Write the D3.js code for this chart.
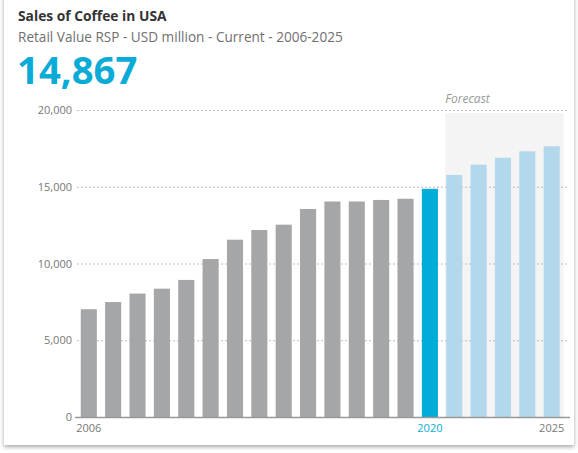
<!DOCTYPE html>
<html>
<head>
<meta charset="utf-8">
<script src="https://cdn.jsdelivr.net/npm/d3@7"></script>
<style>
  html, body { margin: 0; padding: 0; background: #fff; }
  svg { display: block; font-family: "Open Sans", "Noto Sans", sans-serif; }
</style>
</head>
<body>
<svg id="chart" width="578" height="453"></svg>
<script>
// Annual retail sales of coffee, USD million
const years = d3.range(2006, 2026);
const values = [7020, 7490, 8040, 8360, 8930, 10290, 11550, 12180, 12530, 13550,
                14040, 14040, 14140, 14220, 14867, 15770, 16440, 16890, 17310, 17640];
const currentYear = 2020;
const forecastStart = 2021;
const yTicks = [0, 5000, 10000, 15000, 20000];
const xTickLabels = [2006, 2020, 2025];

const svg = d3.select("#chart");

// card with soft shadow
const defs = svg.append("defs");
const f = defs.append("filter").attr("id", "shadow")
  .attr("x", "-5%").attr("y", "-5%").attr("width", "110%").attr("height", "110%");
f.append("feDropShadow").attr("dx", 0).attr("dy", 2).attr("stdDeviation", 2)
  .attr("flood-color", "#000").attr("flood-opacity", 0.35);
svg.append("rect").attr("x", 4).attr("y", -10).attr("width", 570).attr("height", 455)
  .attr("fill", "#fff").attr("filter", "url(#shadow)");

// header
svg.append("text").attr("x", 18).attr("y", 21)
  .attr("font-size", 13.8).attr("font-weight", 700).attr("fill", "#333")
  .text("Sales of Coffee in USA");
svg.append("text").attr("x", 18).attr("y", 42)
  .attr("font-size", 13.6).attr("fill", "#707070")
  .text("Retail Value RSP - USD million - Current - 2006-2025");
svg.append("text").attr("x", 17).attr("y", 84)
  .attr("font-size", 38.3).attr("font-weight", 700).attr("fill", "#0aabd6")
  .text(d3.format(",")(values[years.indexOf(currentYear)]));

// scales
const x = d3.scaleBand().domain(years).range([76.5, 564])
  .paddingInner(0.34).paddingOuter(0.175);
const y = d3.scaleLinear().domain([0, 20000]).range([417, 110]);

// forecast background
const fx0 = x(forecastStart) - 1;
const fx1 = x(years[years.length - 1]) + x.bandwidth() + 4;
svg.append("rect").attr("x", fx0).attr("y", y(20000) + 3)
  .attr("width", fx1 - fx0).attr("height", y(0) - y(20000) - 3)
  .attr("fill", "#f4f4f4");
svg.append("text").attr("x", fx0).attr("y", 103)
  .attr("font-size", 12).attr("font-style", "italic").attr("fill", "#999")
  .text("Forecast");

// y axis with dotted gridlines
const yAxis = svg.append("g").attr("transform", "translate(76,0)")
  .call(d3.axisLeft(y).tickValues(yTicks).tickFormat(d3.format(",")).tickSize(0).tickPadding(4));
yAxis.select(".domain").remove();
yAxis.selectAll("text").attr("font-size", 11).attr("fill", "#777")
  .attr("font-family", "\"Open Sans\", \"Noto Sans\", sans-serif");
svg.append("g").selectAll("line").data(yTicks.filter(d => d > 0)).join("line")
  .attr("x1", 77).attr("x2", 568)
  .attr("y1", d => y(d) + 0.5).attr("y2", d => y(d) + 0.5)
  .attr("stroke", "#bbb").attr("stroke-width", 1).attr("stroke-dasharray", "2,2");

// bars
svg.append("g").selectAll("rect").data(years).join("rect")
  .attr("x", d => x(d))
  .attr("y", (d, i) => y(values[i]))
  .attr("width", x.bandwidth())
  .attr("height", (d, i) => y(0) - y(values[i]))
  .attr("fill", d => d === currentYear ? "#00acd8" : d >= forecastStart ? "#b3d8eb" : "#a5a6a8");

// x axis
svg.append("line").attr("x1", 75).attr("x2", 570)
  .attr("y1", 417.5).attr("y2", 417.5)
  .attr("stroke", "#999").attr("stroke-width", 1.5);
const xAxis = svg.append("g").attr("transform", "translate(0,417)")
  .call(d3.axisBottom(x).tickValues(xTickLabels).tickSize(0).tickPadding(7));
xAxis.select(".domain").remove();
xAxis.selectAll("text").attr("font-size", 11)
  .attr("font-family", "\"Open Sans\", \"Noto Sans\", sans-serif")
  .attr("fill", d => d === currentYear ? "#0aabd6" : "#777");
</script>
</body>
</html>
